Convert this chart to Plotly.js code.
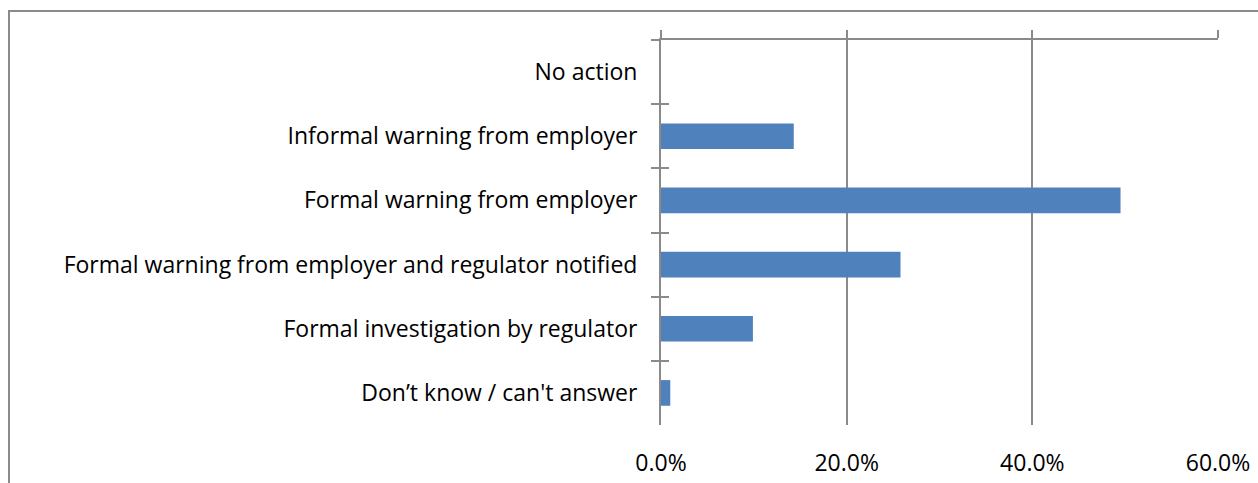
<!DOCTYPE html>
<html>
<head>
<meta charset="utf-8">
<script src="https://cdn.plot.ly/plotly-3.0.1.min.js"></script>
<style>
  html, body { margin: 0; padding: 0; background: #fff; }
  #wrap { position: relative; width: 1258px; height: 483px; overflow: hidden; }
  #frame { position: absolute; left: 8px; top: 10px; width: 1300px; height: 600px;
           border-left: 2px solid #8a8a8a; border-top: 2px solid #8a8a8a; box-sizing: border-box; pointer-events: none; }
  #chart { position: absolute; left: 0; top: 0; width: 1258px; height: 483px; }
</style>
</head>
<body>
<div id="wrap">
  <div id="chart"></div>
  <div id="frame"></div>
</div>
<script>
const categories = [
  "No action",
  "Informal warning from employer",
  "Formal warning from employer",
  "Formal warning from employer and regulator notified",
  "Formal investigation by regulator",
  "Don\u2019t know / can't answer"
];
const values = [0, 14.3, 49.5, 25.8, 9.9, 1.0];
const tickVals = [0, 20, 40, 60];
const tickText = ["0.0%", "20.0%", "40.0%", "60.0%"];

const fontFamily = "Open Sans, Liberation Sans, sans-serif";
const axisColor = "#8a8a8a";

const trace = {
  type: "bar",
  orientation: "h",
  x: values,
  y: categories,
  marker: { color: "#4f81bd", line: { width: 0 } },
  width: 0.4,
  hoverinfo: "skip"
};
// invisible trace to drive the top (mirror) axis
const traceTop = {
  type: "bar", orientation: "h", x: values.map(() => null), y: categories,
  xaxis: "x2", yaxis: "y2", showlegend: false, hoverinfo: "skip"
};

const layout = {
  width: 1258, height: 483,
  margin: { l: 661, r: 40, t: 40, b: 58 },
  paper_bgcolor: "rgba(0,0,0,0)",
  plot_bgcolor: "rgba(0,0,0,0)",
  showlegend: false,
  font: { family: fontFamily, size: 23, color: "#000" },
  xaxis: {
    range: [0, 60], tickvals: tickVals, ticktext: tickText,
    showgrid: true, gridcolor: axisColor, gridwidth: 2,
    zeroline: false, showline: false, ticks: "",
    tickfont: { family: fontFamily, size: 23, color: "#000" },
    ticklabelstandoff: 22, fixedrange: true
  },
  xaxis2: {
    overlaying: "x", side: "top", matches: "x", range: [0, 60],
    tickvals: tickVals, showticklabels: false, showgrid: false, zeroline: false,
    showline: true, linecolor: axisColor, linewidth: 2,
    ticks: "outside", ticklen: 8, tickwidth: 2, tickcolor: axisColor
  },
  yaxis: {
    type: "category", categoryorder: "array", categoryarray: categories,
    autorange: "reversed", tickson: "boundaries",
    showline: true, linecolor: axisColor, linewidth: 2,
    ticks: "outside", ticklen: 8, tickwidth: 2, tickcolor: axisColor,
    showgrid: false, zeroline: false,
    tickfont: { family: fontFamily, size: 23, color: "#000" },
    ticklabelstandoff: 17, fixedrange: true
  },
  yaxis2: {
    type: "category", overlaying: "y", matches: "y", side: "left",
    categoryorder: "array", categoryarray: categories, autorange: "reversed",
    tickson: "boundaries", showticklabels: false, showline: false,
    ticks: "inside", ticklen: 8, tickwidth: 2, tickcolor: axisColor,
    showgrid: false, zeroline: false
  },
  bargap: 0.6
};

Plotly.newPlot("chart", [trace, traceTop], layout, { displayModeBar: false, staticPlot: true });
</script>
</body>
</html>
